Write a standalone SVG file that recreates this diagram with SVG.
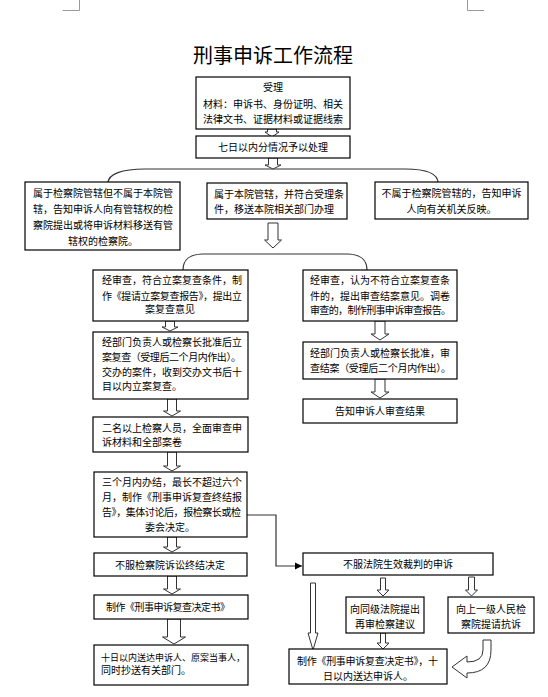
<svg xmlns="http://www.w3.org/2000/svg" width="548" height="697" viewBox="0 0 548 697">
<style>
.bx{fill:#fff;stroke:#000;stroke-width:1.2}
.ar{fill:#fff;stroke:#333;stroke-width:1}
.ln{fill:none;stroke:#333;stroke-width:1.2}
.cm{fill:none;stroke:#999;stroke-width:1}
text{font-family:"Noto Sans CJK SC","Noto Sans",sans-serif;font-size:10px;fill:#000}
.c{text-anchor:middle}
.t{font-size:20px}
.s{font-size:9px}
</style>
<defs>
<marker id="ah" markerWidth="8" markerHeight="8" refX="7" refY="4" orient="auto" markerUnits="userSpaceOnUse">
<path d="M0,0.5 L7,4 L0,7.5 Z" fill="#000"/>
</marker>
</defs>
<rect width="548" height="697" fill="#fff"/>
<path class="cm" d="M79.5,0 V10.5 H62.5 M467.5,0 V10.5 H484"/>
<text class="c t" x="273" y="63">刑事申诉工作流程</text>

<g id="connectors">
<path class="ln" d="M108,183 C108,174 122,169 145,169 L405,169 C428,169 438,174 438,183"/>
<path class="ln" d="M183,270 C183,260 190,254 203,254 L347,254 C360,254 367,260 367,270"/>
<path class="ln" d="M247,515 H276 V566 H302" marker-end="url(#ah)"/>
<path class="ar" d="M267.5,129 H276.5 V132 H279 L272,137 L265,132 H267.5 Z"/>
<path class="ar" d="M268.5,158 H277.5 V165 H281 L273,169 L265,165 H268.5 Z"/>
<path class="ar" d="M268,223 H278 V240 H281.5 L273,248 L264.5,240 H268 Z"/>
<path class="ar" d="M165.5,321 H174.5 V327 H178 L170,331 L162,327 H165.5 Z"/>
<path class="ar" d="M167.5,399 H176.5 V411 H180.5 L172,416 L163.5,411 H167.5 Z"/>
<path class="ar" d="M167.5,452 H176.5 V466 H180.5 L172,471 L163.5,466 H167.5 Z"/>
<path class="ar" d="M167.5,537 H176.5 V547 H180.5 L172,552 L163.5,547 H167.5 Z"/>
<path class="ar" d="M167.5,576 H176.5 V589 H180.5 L172,594 L163.5,589 H167.5 Z"/>
<path class="ar" d="M167.5,619 H180.5 V637 H185.5 L174,644 L162.5,637 H167.5 Z"/>
<path class="ar" d="M375,321 H385 V334 H389 L380,340 L371,334 H375 Z"/>
<path class="ar" d="M375,379 H385 V392 H389 L380,398 L371,392 H375 Z"/>
<path class="ar" d="M310.5,583 H315.5 V633 H318 L313,650 L308,633 H310.5 Z"/>
<path class="ar" d="M380.5,578 H385.5 V590 H389 L383,596 L377,590 H380.5 Z"/>
<path class="ar" d="M468.5,577 H474.5 V590 H477.5 L471.5,596 L465.5,590 H468.5 Z"/>
<path class="ar" d="M380.5,633 H385.5 V643 H389 L383,649 L377,643 H380.5 Z"/>
<path class="ar" d="M483,640 H491 V650 Q491,673 467,673 V678 L452,667 L467,656 V662 Q483,662 483,650 Z"/>
</g>

<g id="n1"><rect class="bx" x="196" y="77" width="154" height="52"/>
<text class="c" x="273" y="91">受理</text>
<text class="c" x="273" y="108">材料：申诉书、身份证明、相关</text>
<text class="c" x="273" y="123">法律文书、证据材料或证据线索</text></g>

<g id="n2"><rect class="bx" x="196" y="136" width="154" height="22"/>
<text class="c" x="273" y="151">七日以内分情况予以处理</text></g>

<g id="n3"><rect class="bx" x="25" y="182" width="155" height="68"/>
<text class="c" x="103" y="197">属于检察院管辖但不属于本院管</text>
<text class="c" x="103" y="213">辖，告知申诉人向有管辖权的检</text>
<text class="c" x="103" y="229">察院提出或将申诉材料移送有管</text>
<text class="c" x="103" y="245">辖权的检察院。</text></g>

<g id="n4"><rect class="bx" x="207" y="183" width="140" height="36"/>
<text x="214" y="198">属于本院管辖，并符合受理条</text>
<text x="214" y="213">件，移送本院相关部门办理</text></g>

<g id="n5"><rect class="bx" x="375" y="182" width="153" height="37"/>
<text class="c" x="451.5" y="197">不属于检察院管辖的，告知申诉</text>
<text class="c" x="451.5" y="213">人向有关机关反映。</text></g>

<g id="n6"><rect class="bx" x="93" y="270" width="155" height="51"/>
<text x="102" y="284">经审查，符合立案复查条件，制</text>
<text x="102" y="299.5" textLength="140" lengthAdjust="spacing">作《提请立案复查报告》，提出立</text>
<text class="c" x="170" y="313">案复查意见</text></g>

<g id="n7"><rect class="bx" x="93" y="332" width="155" height="67"/>
<text x="102" y="346">经部门负责人或检察长批准后立</text>
<text x="102" y="360.5" textLength="139" lengthAdjust="spacing">案复查（受理后二个月内作出）。</text>
<text x="102" y="375.5">交办的案件，收到交办文书后十</text>
<text x="102" y="389.5">目以内立案复查。</text></g>

<g id="n8"><rect class="bx" x="93" y="417" width="155" height="35"/>
<text x="102" y="432">二名以上检察人员，全面审查申</text>
<text x="102" y="446">诉材料和全部案卷</text></g>

<g id="n9"><rect class="bx" x="94" y="472" width="153" height="65"/>
<text x="102" y="485.5">三个月内办结，最长不超过六个</text>
<text x="102" y="500.5">月，制作《刑事申诉复查终结报</text>
<text x="102" y="515.5" textLength="139" lengthAdjust="spacing">告》，集体讨论后，报检察长或检</text>
<text class="c" x="170" y="531">委会决定。</text></g>

<g id="n10"><rect class="bx" x="94" y="553" width="153" height="23"/>
<text class="c" x="170" y="568.5">不服检察院诉讼终结决定</text></g>

<g id="n11"><rect class="bx" x="94" y="595" width="154" height="24"/>
<text class="c" x="168" y="611" textLength="124" lengthAdjust="spacing">制作《刑事申诉复查决定书》</text></g>

<g id="n12"><rect class="bx" x="94" y="645" width="154" height="40"/>
<text class="s" x="101" y="660.5">十日以内送达申诉人、原案当事人，</text>
<text x="101" y="674">同时抄送有关部门。</text></g>

<g id="n13"><rect class="bx" x="303" y="270" width="154" height="51"/>
<text x="310" y="284">经审查，认为不符合立案复查条</text>
<text x="310" y="299.5">件的，提出审查结案意见。调卷</text>
<text x="310" y="314" textLength="141" lengthAdjust="spacing">审查的，制作刑事申诉审查报告。</text></g>

<g id="n14"><rect class="bx" x="303" y="342" width="154" height="37"/>
<text x="310" y="357">经部门负责人或检察长批准，审</text>
<text x="310" y="371.5" textLength="141" lengthAdjust="spacing">查结案（受理后二个月内作出）。</text></g>

<g id="n15"><rect class="bx" x="303" y="399" width="154" height="24"/>
<text class="c" x="380" y="415">告知申诉人审查结果</text></g>

<g id="n16"><rect class="bx" x="303" y="553" width="190" height="22"/>
<text class="c" x="398" y="568">不服法院生效裁判的申诉</text></g>

<g id="n17"><rect class="bx" x="346" y="597" width="78" height="36"/>
<text class="c" x="385" y="613">向同级法院提出</text>
<text class="c" x="385" y="628">再审检察建议</text></g>

<g id="n18"><rect class="bx" x="448" y="597" width="86" height="36"/>
<text class="c" x="491" y="613">向上一级人民检</text>
<text class="c" x="491" y="628">察院提请抗诉</text></g>

<g id="n19"><rect class="bx" x="289" y="649" width="158" height="35"/>
<text x="297" y="665" textLength="141" lengthAdjust="spacing">制作《刑事申诉复查决定书》，十</text>
<text class="c" x="368" y="680">日以内送达申诉人。</text></g>
</svg>
